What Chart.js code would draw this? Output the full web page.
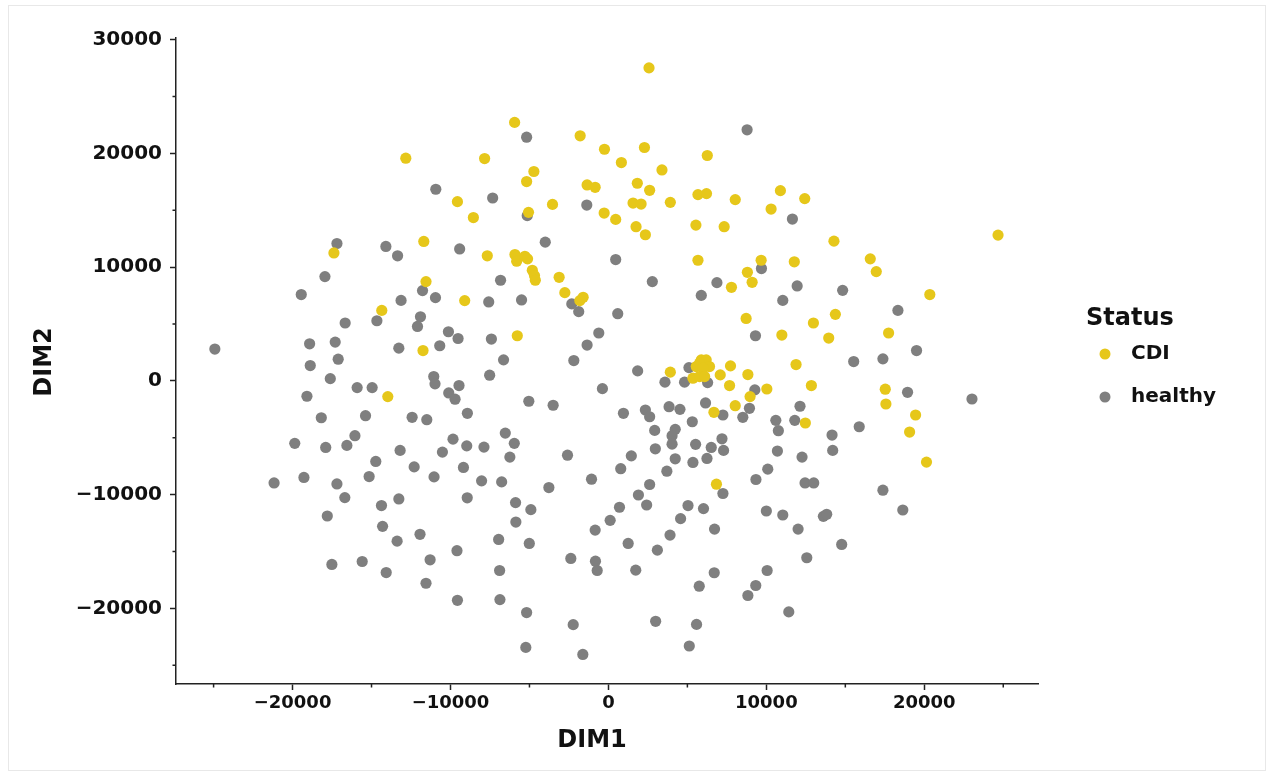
<!DOCTYPE html>
<html>
<head>
<meta charset="utf-8">
<title>DIM1 vs DIM2</title>
<script src="https://cdn.jsdelivr.net/npm/chart.js@4/dist/chart.umd.min.js"></script>
<style>
  html, body { margin: 0; padding: 0; background: #fff; }
  #wrap { position: relative; width: 1268px; height: 776px; }
  #frame { position: absolute; left: 8px; top: 5px; right: 2px; bottom: 5px; border: 1px solid #e8e8e8; pointer-events: none; }
</style>
</head>
<body>
<div id="wrap">
  <canvas id="chart" width="1268" height="776"></canvas>
  <div id="frame"></div>
</div>
<script>
// Points, [DIM1, DIM2]
const cdiPoints = [
  [-12830, 19580], [-9560, 15760], [-8550, 14360], [-11690, 12260], [-17380, 11250],
  [2570, 27520], [-5940, 22730], [-1790, 21550], [-250, 20370], [2280, 20520],
  [6260, 19820], [-7840, 19550], [820, 19200], [-4720, 18410], [-5180, 17530],
  [3390, 18550], [-1350, 17230], [-840, 17020], [1830, 17380], [2610, 16760],
  [-3540, 15520], [1560, 15640], [2070, 15550], [3920, 15700], [5670, 16380],
  [6210, 16470], [8030, 15940], [-5060, 14820], [-270, 14760], [460, 14200],
  [1750, 13560], [2340, 12850], [5540, 13700], [7330, 13560], [10890, 16730],
  [12430, 16030], [10300, 15110], [14280, 12290], [24670, 12820], [-11550, 8730],
  [-9100, 7060], [-14350, 6200], [-11740, 2670], [-13970, -1380], [-7670, 11000],
  [-5920, 11110], [-5810, 10520], [-5290, 10960], [-5120, 10730], [-4820, 9730],
  [-4680, 9260], [-4630, 8850], [-3120, 9110], [-2760, 7760], [-1810, 7060],
  [-1600, 7350], [5670, 10610], [7790, 8230], [8800, 9550], [9100, 8670],
  [8720, 5490], [-5770, 3970],
  [5880, 1850], [6190, 1850], [6400, 1260], [5560, 1260], [5770, 1560],
  [5990, 1120], [5350, 240], [5770, 380], [6090, 380],
  [3920, 770], [7080, 530], [7730, 1320], [8830, 560], [7670, -410],
  [8970, -1380], [8030, -2180], [6680, -2760],
  [9670, 10610], [11770, 10470], [16580, 10730], [16960, 9610],
  [20350, 7590], [14370, 5850], [12980, 5090], [10980, 4030], [13950, 3770],
  [17740, 4210], [11880, 1440], [10030, -710], [12850, -410], [17530, -730],
  [17570, -2030], [19450, -3000], [12470, -3700], [19070, -4500], [20140, -7140],
  [6840, -9080]
];

const healthyPoints = [
  [-10930, 16850], [-17190, 12080], [-14090, 11820], [-9420, 11600], [-5180, 21430],
  [8780, 22080], [-7330, 16080], [-1370, 15460], [-5140, 14530], [-4000, 12200],
  [11650, 14230], [-13350, 11000], [-17950, 9170], [-11770, 7940], [-10950, 7320],
  [-19450, 7590], [-13130, 7080], [-14660, 5290], [-11900, 5640], [-12090, 4790],
  [-16670, 5090], [-10130, 4320], [-9520, 3730], [-24920, 2800], [-18920, 3260],
  [-17300, 3410], [-13270, 2880], [-10680, 3090], [-18880, 1350], [-17110, 1910],
  [-17610, 200], [-11060, 380], [-10980, -260], [-9460, -410], [-15910, -590],
  [-14960, -590], [-19090, -1350], [-10110, -1060], [-9710, -1610], [-18180, -3240],
  [-15380, -3060], [-12430, -3200], [-11500, -3410], [-8930, -2850], [-19860, -5490],
  [-17900, -5850], [-16560, -5670], [-16050, -4820], [-13190, -6110], [-10510, -6260],
  [-9840, -5120], [-8970, -5710], [-14730, -7080], [-12300, -7560], [-9180, -7610],
  [-21170, -8970], [-19280, -8490], [-17190, -9060], [-15150, -8410], [-11040, -8440],
  [-16690, -10260], [-14370, -10960], [-13270, -10380], [-8940, -10280], [-17800, -11880],
  [-14300, -12790], [-13380, -14090], [-11930, -13490], [-9590, -14930], [-17510, -16140],
  [-15590, -15880], [-14070, -16850], [-11290, -15730], [-11550, -17790], [-9560, -19290],
  [460, 10670], [2780, 8730], [6870, 8640], [5880, 7520], [-6830, 8850],
  [-7580, 6940], [-5500, 7120], [-2320, 6770], [-1880, 6090], [590, 5910],
  [9310, 3970], [-7410, 3680], [-610, 4210], [-1350, 3150], [-6640, 1850],
  [-2190, 1790], [-7520, 500], [1850, 880], [-380, -680], [5100, 1170],
  [4820, -110], [6280, -150], [3580, -110], [9270, -790], [-5040, -1790],
  [-3500, -2140], [950, -2850], [2340, -2560], [2610, -3150], [3840, -2270],
  [4530, -2500], [6150, -1940], [5310, -3590], [7250, -3000], [8510, -3200],
  [8930, -2410], [2930, -4350], [4230, -4260], [4030, -4820], [-6530, -4590],
  [-5960, -5490], [-7880, -5820], [-6240, -6700], [-2590, -6530], [1450, -6590],
  [2970, -5970], [4030, -5560], [5520, -5580], [6510, -5850], [7190, -5090],
  [7290, -6110], [4230, -6850], [5350, -7170], [6240, -6820], [780, -7720],
  [3700, -7940],
  [9690, 9880], [11950, 8350], [11040, 7080], [14830, 7960], [18330, 6200],
  [19510, 2670], [15530, 1700], [17380, 1940], [18940, -1000], [23020, -1590],
  [12130, -2230], [10600, -3470], [11800, -3470], [10760, -4380], [14160, -4760],
  [15880, -4030], [10700, -6170], [12260, -6700], [14200, -6110], [10090, -7760],
  [-8030, -8790], [-6760, -8880], [-3770, -9380], [-1070, -8640], [7250, -9900],
  [9340, -8670], [-5880, -10700], [-4910, -11320], [-5860, -12410], [1900, -10030],
  [2610, -9110], [700, -11110], [2420, -10910], [5040, -10960], [6020, -11230],
  [110, -12260], [-840, -13120], [4570, -12110], [6720, -13030], [-6950, -13940],
  [-5010, -14290], [1250, -14290], [3900, -13560], [3100, -14880], [-2380, -15610],
  [-820, -15850], [-710, -16670], [1730, -16640], [-6890, -16670], [6700, -16870],
  [5750, -18050], [8830, -18870], [9330, -17990], [-6870, -19230], [-5180, -20370],
  [-2230, -21430], [2990, -21140], [5580, -21410], [-5230, -23430], [-1620, -24050],
  [5120, -23310],
  [12450, -8970], [13000, -8970], [17380, -9610], [18640, -11350], [10000, -11440],
  [11040, -11790], [13610, -11910], [13820, -11730], [12010, -13030], [14770, -14380],
  [12560, -15550], [10050, -16670], [11420, -20310]
];

const seriesNames = ['CDI', 'healthy'];
const seriesColors = ['#E6C71A', '#7F7F7F'];

const xMajorTicks = [-20000, -10000, 0, 10000, 20000];
const xMinorTicks = [-25000, -15000, -5000, 5000, 15000, 25000];
const yMajorTicks = [-20000, -10000, 0, 10000, 20000, 30000];
const yMinorTicks = [-25000, -15000, -5000, 5000, 15000, 25000];

const axisColor = '#222';
const FONT = "'DejaVu Sans', 'Liberation Sans', sans-serif";

// Minus sign like the original tick labels
function fmtTick(v) {
  return v < 0 ? '\u2212' + Math.abs(v) : String(v);
}

// Short minor ticks, axis titles and the legend
const decorations = {
  id: 'decorations',
  afterDraw(chart) {
    const ctx = chart.ctx;
    const xs = chart.scales.x;
    const ys = chart.scales.y;
    const area = chart.chartArea;

    ctx.save();
    ctx.strokeStyle = axisColor;
    ctx.lineWidth = 1.5;
    ctx.beginPath();
    xMinorTicks.forEach(v => {
      const px = xs.getPixelForValue(v);
      ctx.moveTo(px, area.bottom);
      ctx.lineTo(px, area.bottom + 3.5);
    });
    yMinorTicks.forEach(v => {
      const py = ys.getPixelForValue(v);
      ctx.moveTo(area.left, py);
      ctx.lineTo(area.left - 3.5, py);
    });
    ctx.stroke();

    // axis titles
    ctx.fillStyle = '#111';
    ctx.font = `bold 24px ${FONT}`;
    ctx.textAlign = 'center';
    ctx.textBaseline = 'middle';
    ctx.fillText('DIM1', 592, 741);
    ctx.save();
    ctx.translate(45, 362);
    ctx.rotate(-Math.PI / 2);
    ctx.fillText('DIM2', 0, 0);
    ctx.restore();

    // legend
    ctx.textAlign = 'left';
    ctx.font = `bold 24px ${FONT}`;
    ctx.fillText('Status', 1086, 319);
    ctx.font = `bold 20px ${FONT}`;
    const rows = [354, 397];
    seriesNames.forEach((name, i) => {
      ctx.fillStyle = seriesColors[i];
      ctx.beginPath();
      ctx.arc(1105, rows[i], 5.5, 0, Math.PI * 2);
      ctx.fill();
      ctx.fillStyle = '#111';
      ctx.fillText(name, 1131, rows[i]);
    });
    ctx.restore();
  }
};

const toXY = pts => pts.map(p => ({ x: p[0], y: p[1] }));

new Chart(document.getElementById('chart'), {
  type: 'scatter',
  data: {
    datasets: [
      {
        label: seriesNames[0],
        data: toXY(cdiPoints),
        backgroundColor: seriesColors[0],
        borderWidth: 0,
        pointRadius: 5.6,
        pointHoverRadius: 5.6
      },
      {
        label: seriesNames[1],
        data: toXY(healthyPoints),
        backgroundColor: seriesColors[1],
        borderWidth: 0,
        pointRadius: 5.6,
        pointHoverRadius: 5.6
      }
    ]
  },
  options: {
    responsive: false,
    animation: false,
    devicePixelRatio: 1,
    layout: { padding: { top: 38, right: 230, left: 0, bottom: 0 } },
    plugins: {
      legend: { display: false },
      tooltip: { enabled: false }
    },
    scales: {
      x: {
        type: 'linear',
        position: 'bottom',
        min: -27380,
        max: 27200,
        afterBuildTicks: s => { s.ticks = xMajorTicks.map(v => ({ value: v })); },
        afterFit: s => { s.height = 92; },
        border: { display: true, color: axisColor, width: 1.5 },
        grid: { drawOnChartArea: false, drawTicks: true, tickLength: 6, tickColor: axisColor, tickWidth: 1.5 },
        ticks: {
          autoSkip: false,
          maxRotation: 0,
          padding: 3,
          color: '#111',
          font: { family: FONT, weight: 'bold', size: 18 },
          callback: v => fmtTick(v)
        }
      },
      y: {
        type: 'linear',
        position: 'left',
        min: -26650,
        max: 30150,
        afterBuildTicks: s => { s.ticks = yMajorTicks.map(v => ({ value: v })); },
        afterFit: s => { s.width = 176; },
        border: { display: true, color: axisColor, width: 1.5 },
        grid: { drawOnChartArea: false, drawTicks: true, tickLength: 6, tickColor: axisColor, tickWidth: 1.5 },
        ticks: {
          autoSkip: false,
          padding: 8,
          color: '#111',
          font: { family: FONT, weight: 'bold', size: 20 },
          callback: v => fmtTick(v)
        }
      }
    }
  },
  plugins: [decorations]
});
</script>
</body>
</html>
